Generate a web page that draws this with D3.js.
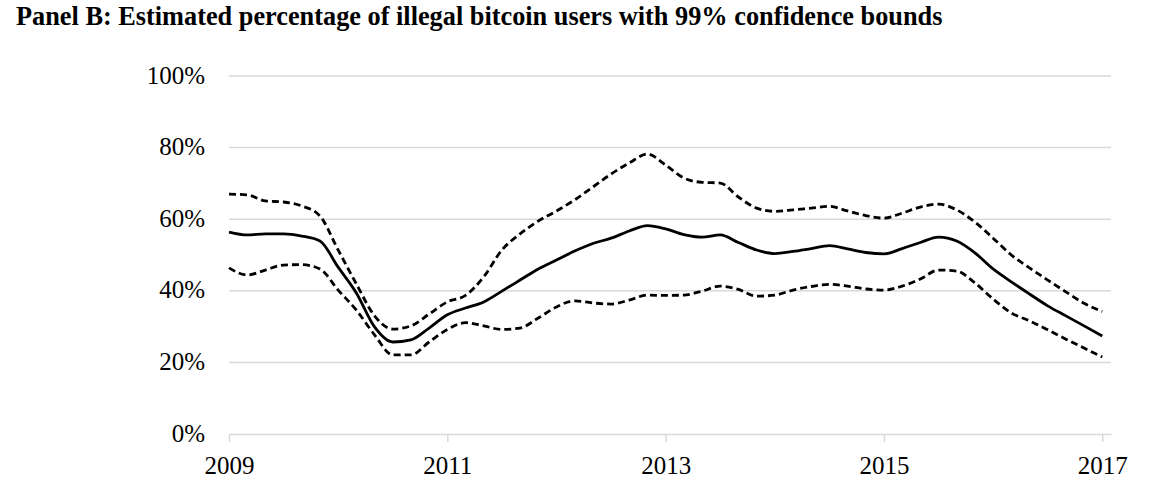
<!DOCTYPE html>
<html><head><meta charset="utf-8">
<script src="https://cdn.jsdelivr.net/npm/d3@7"></script>
<style>body{margin:0;background:#fff}svg{display:block}</style>
</head><body>
<svg id="chart" width="1149" height="492"></svg>
<script>
const title = "Panel B: Estimated percentage of illegal bitcoin users with 99% confidence bounds";
// dates: bimonthly steps from 2009 to 2017 (decimal years)
const dates = d3.range(0, 49).map(k => 2009 + k / 6);
const estimate = [56.4,55.6,55.9,55.9,55.3,53.9,46.6,39.4,29.9,25.7,26.3,29.6,33.3,35.2,36.9,39.9,43.0,46.1,48.6,51.1,53.2,54.7,56.7,58.2,57.3,55.7,55.0,55.6,53.5,51.4,50.4,51.0,51.8,52.6,51.7,50.7,50.3,51.8,53.5,55.0,53.9,50.6,46.1,42.5,39.1,35.8,33.0,30.2,27.4];
const upperBound = [67.0,66.8,65.1,64.8,63.7,60.9,51.4,41.9,33.0,29.3,30.2,33.5,36.9,38.7,43.9,51.4,55.9,59.5,62.3,65.4,69.0,72.6,75.7,78.2,75.1,71.5,70.3,70.1,66.2,63.1,62.2,62.6,63.1,63.6,62.3,61.0,60.3,61.7,63.4,64.2,62.6,59.2,54.7,50.0,46.4,43.0,39.7,36.5,34.2];
const lowerBound = [46.4,44.4,45.8,47.2,47.3,46.1,40.2,34.6,27.7,22.1,22.1,25.7,29.2,31.1,30.2,29.2,29.6,32.4,35.5,37.2,36.6,36.3,37.4,38.8,38.7,38.8,39.9,41.3,40.4,38.5,38.8,40.2,41.2,41.8,41.3,40.5,40.2,41.3,43.3,45.8,45.5,42.2,37.7,33.8,31.6,29.1,26.5,24.0,21.5];
const yTicks = [0, 20, 40, 60, 80, 100];
const xTicks = [2009, 2011, 2013, 2015, 2017];

const svg = d3.select("#chart");
const x = d3.scaleLinear().domain([2009, 2017.08]).range([229, 1111]);
const y = d3.scaleLinear().domain([0, 100]).range([434, 76]);
const font = "'Liberation Serif','Times New Roman',serif";

svg.append("text").attr("x", 16).attr("y", 25)
  .attr("font-family", font).attr("font-weight", "bold").attr("font-size", 26.3)
  .attr("fill", "#000").text(title);

// gridlines
svg.append("g").selectAll("line").data(yTicks.filter(d => d > 0)).join("line")
  .attr("x1", 229).attr("x2", 1111)
  .attr("y1", d => y(d)).attr("y2", d => y(d))
  .attr("stroke", "#d9d9d9").attr("stroke-width", 1.5);

// y labels
svg.append("g").selectAll("text").data(yTicks).join("text")
  .attr("x", 205).attr("y", d => y(d) + 7.5)
  .attr("text-anchor", "end").attr("font-family", font).attr("font-size", 25)
  .attr("fill", "#000").text(d => d + "%");

// x axis
const xAxis = d3.axisBottom(x).tickValues(xTicks).tickFormat(d3.format("d")).tickSize(8).tickSizeOuter(0);
const gx = svg.append("g").attr("transform", "translate(0,434)").call(xAxis);
gx.select(".domain").attr("stroke", "#d9d9d9").attr("stroke-width", 1.5);
gx.selectAll(".tick line").attr("stroke", "#d9d9d9").attr("stroke-width", 1.5);
gx.selectAll(".tick text").attr("font-family", font).attr("font-size", 25)
  .attr("fill", "#000").attr("dy", 0).attr("y", 40);

const line = d3.line().x((d, i) => x(dates[i])).y(d => y(d)).curve(d3.curveMonotoneX);
const series = [
  {values: upperBound, dash: "7,4"},
  {values: lowerBound, dash: "7,4"},
  {values: estimate, dash: null}
];
svg.append("g").selectAll("path").data(series).join("path")
  .attr("d", d => line(d.values))
  .attr("fill", "none").attr("stroke", "#000").attr("stroke-width", 2.8)
  .attr("stroke-dasharray", d => d.dash);
</script>
</body></html>
